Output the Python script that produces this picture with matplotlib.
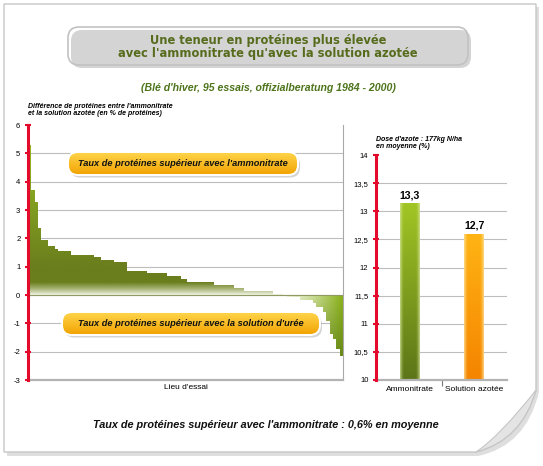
import numpy as np
import matplotlib.pyplot as plt
from matplotlib.patches import FancyBboxPatch, PathPatch
from matplotlib.path import Path
from matplotlib.colors import to_rgb

plt.rcParams['font.family'] = ['Liberation Sans', 'DejaVu Sans']
NARROW = ['Liberation Sans Narrow', 'Liberation Sans', 'DejaVu Sans']

# ---- data -------------------------------------------------------------
# difference ammonitrate - solution azotee, one value per trial (95 trials, sorted)
diff_values = [5.3, 3.7, 3.3, 2.35, 1.95, 1.95, 1.72, 1.72, 1.63,
               1.55, 1.55, 1.55, 1.55,
               1.42, 1.42, 1.42, 1.42, 1.42, 1.42, 1.42,
               1.33, 1.33, 1.25, 1.25, 1.25, 1.25,
               1.15, 1.15, 1.15, 1.15,
               0.85, 0.85, 0.85, 0.85, 0.85, 0.85,
               0.77, 0.77, 0.77, 0.77, 0.77, 0.77,
               0.67, 0.67, 0.67, 0.67, 0.55, 0.55,
               0.45, 0.45, 0.45, 0.45, 0.45, 0.45, 0.45, 0.45,
               0.36, 0.36, 0.36, 0.36, 0.36, 0.36,
               0.24, 0.24, 0.24,
               0.14, 0.14, 0.14, 0.14, 0.14, 0.14, 0.14, 0.14, 0.14,
               0.05, 0.05, 0.05, -0.02,
               -0.08, -0.08, -0.08, -0.08,
               -0.18, -0.18, -0.18, -0.18,
               -0.29, -0.44, -0.44, -0.61, -0.91, -1.38, -1.55, -1.91, -2.14]
diff_yticks = [-3, -2, -1, 0, 1, 2, 3, 4, 5, 6]

categories = ['Ammonitrate', 'Solution azotée']
protein_values = [13.15, 12.6]
protein_labels = ['13,3', '12,7']
protein_yticks = [10, 10.5, 11, 11.5, 12, 12.5, 13, 13.5, 14]

title = "Une teneur en protéines plus élevée\navec l'ammonitrate qu'avec la solution azotée"
subtitle = "(Blé d'hiver, 95 essais, offizialberatung 1984 - 2000)"
footer = "Taux de protéines supérieur avec l'ammonitrate : 0,6% en moyenne"
callouts = ["Taux de protéines supérieur avec l'ammonitrate",
            "Taux de protéines supérieur avec la solution d'urée"]

RED = '#e30a2c'
GRID = '#bdbdbd'


def vgrad(c1, c2, n=100):
    g = np.linspace(0, 1, n)[:, None, None]
    out = np.array(to_rgb(c1)) * (1 - g) + np.array(to_rgb(c2)) * g
    return np.repeat(out, 2, axis=1)


fig = plt.figure(figsize=(5.43, 4.66), dpi=100)

# ---- background card (pixel coords) -----------------------------------
bg = fig.add_axes([0, 0, 1, 1], zorder=-5)
bg.set_xlim(0, 543)
bg.set_ylim(466, 0)
bg.axis('off')

card = Path([(4, 4), (536, 4), (536, 390), (522, 440), (476, 452), (4, 452), (4, 4)],
            [Path.MOVETO, Path.LINETO, Path.LINETO, Path.CURVE3, Path.CURVE3,
             Path.LINETO, Path.CLOSEPOLY])
shadow = Path([(7, 7), (539, 7), (539, 392), (526, 446), (478, 456), (7, 456), (7, 7)],
              card.codes)
bg.add_patch(PathPatch(shadow, facecolor='#dedede', edgecolor='none'))
bg.add_patch(PathPatch(card, facecolor='white', edgecolor='#c6c6c6', lw=1))
curl = Path([(536, 390), (522, 440), (476, 452), (500, 436), (536, 390)],
            [Path.MOVETO, Path.CURVE3, Path.CURVE3, Path.CURVE3, Path.CURVE3])
bg.add_patch(PathPatch(curl, facecolor='#e4e4e4', edgecolor='#c6c6c6', lw=0.8))

# header box with grey gradient
bg.add_patch(FancyBboxPatch((71, 30), 400, 38, boxstyle='round,pad=0,rounding_size=11',
                            facecolor='#b8b8b8', edgecolor='none', alpha=0.6))
hbox = FancyBboxPatch((68, 27), 400, 38, boxstyle='round,pad=0,rounding_size=11',
                      facecolor='none', edgecolor='#c2c2c2', lw=1.2)
bg.add_patch(hbox)
him = bg.imshow(vgrad('#fdfdfd', '#d2d2d2'), extent=[68, 468, 65, 27], aspect='auto', zorder=0.5)
him.set_clip_path(hbox)
bg.text(268, 47, title, ha='center', va='center', fontsize=8.3, fontweight='bold',
        color='#566c1c', family=['DejaVu Sans'], linespacing=1.05)
bg.text(268, 88, subtitle, ha='center', va='center', fontsize=7.6,
        fontweight='bold', style='italic', color='#4d741a')
bg.text(266, 425, footer, ha='center', va='center', fontsize=7.8,
        fontweight='bold', style='italic', color='#111111')

# ---- left chart: differences --------------------------------------------
ax = fig.add_axes([28 / 543, 1 - 380 / 466, 315 / 543, 255 / 466])
ax.patch.set_alpha(0)
n = len(diff_values)
idx = np.arange(n)
bars = ax.bar(idx, diff_values, width=1.0, align='edge', color='none', linewidth=0)

xs = np.linspace(0, n, 950)
ys = np.linspace(6, -3, 450)
X, Y = np.meshgrid(xs, ys)
olive = np.array(to_rgb('#6a7e1d'))
bright = np.array(to_rgb('#97bc22'))
top_t = np.clip((Y - 1.0) / 4.3, 0, 1)[..., None]
pos_col = olive * (1 - top_t) + bright * top_t
fade = np.clip(Y / 0.45, 0, 1)[..., None] ** 0.8
pos_col = pos_col * fade + (1 - fade) * np.array([0.97, 0.98, 0.93])
tx = (np.clip((X - 78) / 16.5, 0, 1) ** 1.4)[..., None]
pale = np.array(to_rgb('#eef4da'))
ngreen = np.array(to_rgb('#8db41e'))
dark = np.array(to_rgb('#587517'))
neg_col = pale * (1 - tx) + ngreen * tx
depth = (np.clip(-Y / 2.2, 0, 1) * 0.7)[..., None]
neg_col = neg_col * (1 - depth) + dark * depth
img = np.where(Y[..., None] >= 0, pos_col, neg_col)

clip_path = Path.make_compound_path(
    *[b.get_path().transformed(b.get_patch_transform()) for b in bars])
clip_patch = PathPatch(clip_path, transform=ax.transData, facecolor='none', edgecolor='none')
ax.add_patch(clip_patch)
im = ax.imshow(img, extent=[0, n, -3, 6], aspect='auto', zorder=2, interpolation='bilinear')
im.set_clip_path(clip_patch)
ax.set_xlim(0, n)
ax.set_ylim(-3, 6)

ax.set_yticks(diff_yticks)
ax.set_yticklabels([str(t) for t in diff_yticks])
for t in diff_yticks[1:-1]:
    ax.axhline(t, color=GRID, lw=0.8, zorder=1)
ax.axhline(0, color='#8f9a62', lw=0.8, zorder=3)
ax.set_xticks([])
ax.set_xlabel("Lieu d'essai", fontsize=6, family=NARROW, labelpad=3)
ax.tick_params(axis='y', direction='inout', length=5, width=1.5, color=RED,
               labelsize=5.5, pad=3)
ax.spines['top'].set_visible(False)
ax.spines['left'].set_color(RED)
ax.spines['left'].set_linewidth(2.2)
ax.spines['left'].set_zorder(5)
ax.spines['bottom'].set_color('#b3b3b3')
ax.spines['bottom'].set_linewidth(1.6)
ax.spines['right'].set_color('#a8a8a8')
ax.spines['right'].set_linewidth(0.8)
ax.text(0.0, 1.058, "Différence de protéines entre l'ammonitrate\net la solution azotée (en % de protéines)",
        transform=ax.transAxes, fontsize=5, fontweight='bold', style='italic',
        ha='left', va='center', linespacing=1.0)

# ---- right chart: protein content ----------------------------------------
ax2 = fig.add_axes([376 / 543, 1 - 380 / 466, 131 / 543, 225 / 466])
ax2.patch.set_alpha(0)
pos = np.arange(len(categories))
pbars = ax2.bar(pos, protein_values, width=0.3, color='none', linewidth=0, zorder=2)

grads = [('#a2c624', '#5c7518', '#d9e8a0'), ('#ffb414', '#f58400', '#ffe7a6')]
for b, (ctop, cbot, cedge), lab in zip(pbars, grads, protein_labels):
    v = np.linspace(0, 1, 200)[:, None, None]
    base = np.array(to_rgb(ctop)) * (1 - v) + np.array(to_rgb(cbot)) * v
    u = np.linspace(0, 1, 60)[None, :, None]
    edge = np.clip(1 - np.minimum(u, 1 - u) / 0.2, 0, 1) ** 1.5 * 0.75
    grad = base * (1 - edge) + np.array(to_rgb(cedge)) * edge
    x0, w, h = b.get_x(), b.get_width(), b.get_height()
    bim = ax2.imshow(grad, extent=[x0, x0 + w, 10, h], aspect='auto', zorder=2)
    bim.set_clip_path(b)
    ax2.text(x0 + w / 2, h + 0.05, lab, ha='center', va='bottom', fontsize=7.6,
             fontweight='bold', zorder=4)
ax2.set_xlim(-0.52, 1.51)
ax2.set_ylim(10, 14)

ax2.set_yticks(protein_yticks)
ax2.set_yticklabels([('%g' % t).replace('.', ',') for t in protein_yticks])
for t in protein_yticks[1:-1]:
    ax2.axhline(t, color=GRID, lw=0.8, zorder=1)
ax2.set_xticks(pos)
ax2.set_xticklabels(categories, fontsize=6, family=NARROW)
ax2.set_xticks([0.5], minor=True)
ax2.tick_params(axis='x', which='major', length=0, pad=4)
ax2.tick_params(axis='x', which='minor', length=4, width=0.8, color='#777777')
ax2.tick_params(axis='y', direction='inout', length=5, width=1.5, color=RED,
                labelsize=5.5, pad=3)
ax2.spines['top'].set_visible(False)
ax2.spines['right'].set_visible(False)
ax2.spines['left'].set_color(RED)
ax2.spines['left'].set_linewidth(2.2)
ax2.spines['left'].set_zorder(5)
ax2.spines['bottom'].set_color('#b3b3b3')
ax2.spines['bottom'].set_linewidth(1.6)
ax2.text(0.0, 1.055, "Dose d'azote : 177kg N/ha\nen moyenne (%)", transform=ax2.transAxes,
         fontsize=5, fontweight='bold', style='italic', ha='left', va='center',
         linespacing=1.0)

# ---- callout labels on top (pixel coords) ------------------------------
fg = fig.add_axes([0, 0, 1, 1], zorder=10)
fg.set_xlim(0, 543)
fg.set_ylim(466, 0)
fg.axis('off')
for (x0, y0, w, h), txt in zip([(68, 152, 230, 23), (62, 312, 258, 23)], callouts):
    fg.add_patch(FancyBboxPatch((x0 + 2, y0 + 2.5), w, h,
                                boxstyle='round,pad=0,rounding_size=10',
                                facecolor='#a0a0a0', edgecolor='none', alpha=0.45))
    box = FancyBboxPatch((x0, y0), w, h, boxstyle='round,pad=0,rounding_size=10',
                         facecolor='none', edgecolor='white', lw=1.4, zorder=3)
    fg.add_patch(box)
    cim = fg.imshow(vgrad('#ffd64c', '#f2a200'), extent=[x0, x0 + w, y0 + h, y0],
                    aspect='auto', zorder=2)
    cim.set_clip_path(box)
    fg.text(x0 + w / 2, y0 + h / 2 + 0.5, txt, ha='center', va='center', fontsize=6.7,
            fontweight='bold', style='italic', color='#111111', zorder=4)
fg.set_xlim(0, 543)
fg.set_ylim(466, 0)

fig.savefig('out.png', dpi=100)
